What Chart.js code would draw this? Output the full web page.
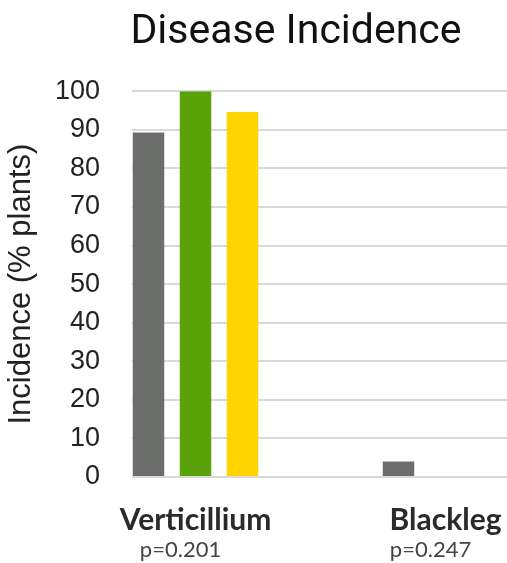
<!DOCTYPE html>
<html>
<head>
<meta charset="utf-8">
<script src="https://cdn.jsdelivr.net/npm/chart.js@4"></script>
<style>
  html, body { margin: 0; padding: 0; background: #fff; }
  #wrap { width: 507px; height: 563px; }
</style>
</head>
<body>
<div id="wrap"><canvas id="chart"></canvas></div>
<script>
// ================= DATA =================
const categories = ["Verticillium", "Blackleg"];
const pValues = ["p=0.201", "p=0.247"];
const seriesNames = ["Series 1", "Series 2", "Series 3"];
const grayValues = [89.3, 4];
const greenValues = [100, 0];
const yellowValues = [94.6, 0];
const yTicks = [0, 10, 20, 30, 40, 50, 60, 70, 80, 90, 100];

const colors = ["#6b6e6a", "#5aa10a", "#ffd400"];

// bars sit on a linear x axis so the groups can be placed off-centre like the original
function toPoints(values) {
  return values.map((v, i) => ({ x: i, y: v }));
}

function categoryTicks(axis) {
  axis.ticks = categories.map((c, i) => ({ value: i }));
}

// fixed axis boxes so the plot area lands where the original has it
function fixBox(size) {
  return (axis) => {
    axis.paddingLeft = 0;
    axis.paddingRight = 0;
    if (axis.isHorizontal()) axis.height = size;
    else axis.width = size;
  };
}

// ================= TITLE NUDGE =================
const titleShift = {
  id: "titleShift",
  afterLayout(chart) {
    const t = chart.titleBlock;
    if (t) t.left = 85;
  }
};

const xRange = { min: -0.254, max: 1.246 };
// p-value line sits a little left of the category names in the original
const pShift = 0.06;

new Chart(document.getElementById("chart"), {
  type: "bar",
  data: {
    datasets: [grayValues, greenValues, yellowValues].map((vals, k) => ({
      label: seriesNames[k],
      data: toPoints(vals),
      backgroundColor: colors[k],
      borderWidth: 0,
      categoryPercentage: 0.564,
      barPercentage: 0.67
    }))
  },
  options: {
    responsive: true,
    maintainAspectRatio: false,
    animation: false,
    layout: { padding: 0 },
    plugins: {
      legend: { display: false },
      tooltip: { enabled: false },
      title: {
        display: true,
        text: "Disease Incidence",
        fullSize: false,
        color: "#111",
        font: { family: "Roboto", size: 41, weight: "normal" },
        padding: { top: 8, bottom: 34 }
      }
    },
    scales: {
      x: {
        type: "linear",
        min: xRange.min,
        max: xRange.max,
        offset: false,
        bounds: "data",
        afterBuildTicks: categoryTicks,
        afterFit: fixBox(60),
        grid: { display: false, drawTicks: false, offset: false },
        border: { display: false },
        ticks: {
          callback: (v) => categories[v] ?? "",
          color: "#2a2a2a",
          padding: 25,
          maxRotation: 0,
          autoSkip: false,
          font: { family: "Lato", size: 30, weight: "bold" }
        }
      },
      x2: {
        type: "linear",
        position: "bottom",
        min: xRange.min + pShift,
        max: xRange.max + pShift,
        offset: false,
        bounds: "data",
        afterBuildTicks: categoryTicks,
        afterFit: fixBox(26),
        grid: { display: false, drawTicks: false, offset: false },
        border: { display: false },
        ticks: {
          callback: (v) => pValues[v] ?? "",
          color: "#444",
          padding: 0,
          maxRotation: 0,
          autoSkip: false,
          font: { family: "Lato", size: 22, weight: "normal" }
        }
      },
      y: {
        min: 0,
        max: 100,
        afterBuildTicks: (axis) => { axis.ticks = yTicks.map(v => ({ value: v })); },
        afterFit: fixBox(132),
        grid: { color: "#d9d9d9", lineWidth: 2, drawTicks: false },
        border: { display: false },
        ticks: {
          color: "#222",
          padding: 32,
          font: { family: "Liberation Sans", size: 27 }
        },
        title: {
          display: true,
          text: "Incidence (% plants)",
          color: "#222",
          font: { family: "Liberation Sans", size: 31 },
          padding: { top: 3, bottom: 0 }
        }
      }
    }
  },
  plugins: [titleShift]
});
</script>
</body>
</html>
